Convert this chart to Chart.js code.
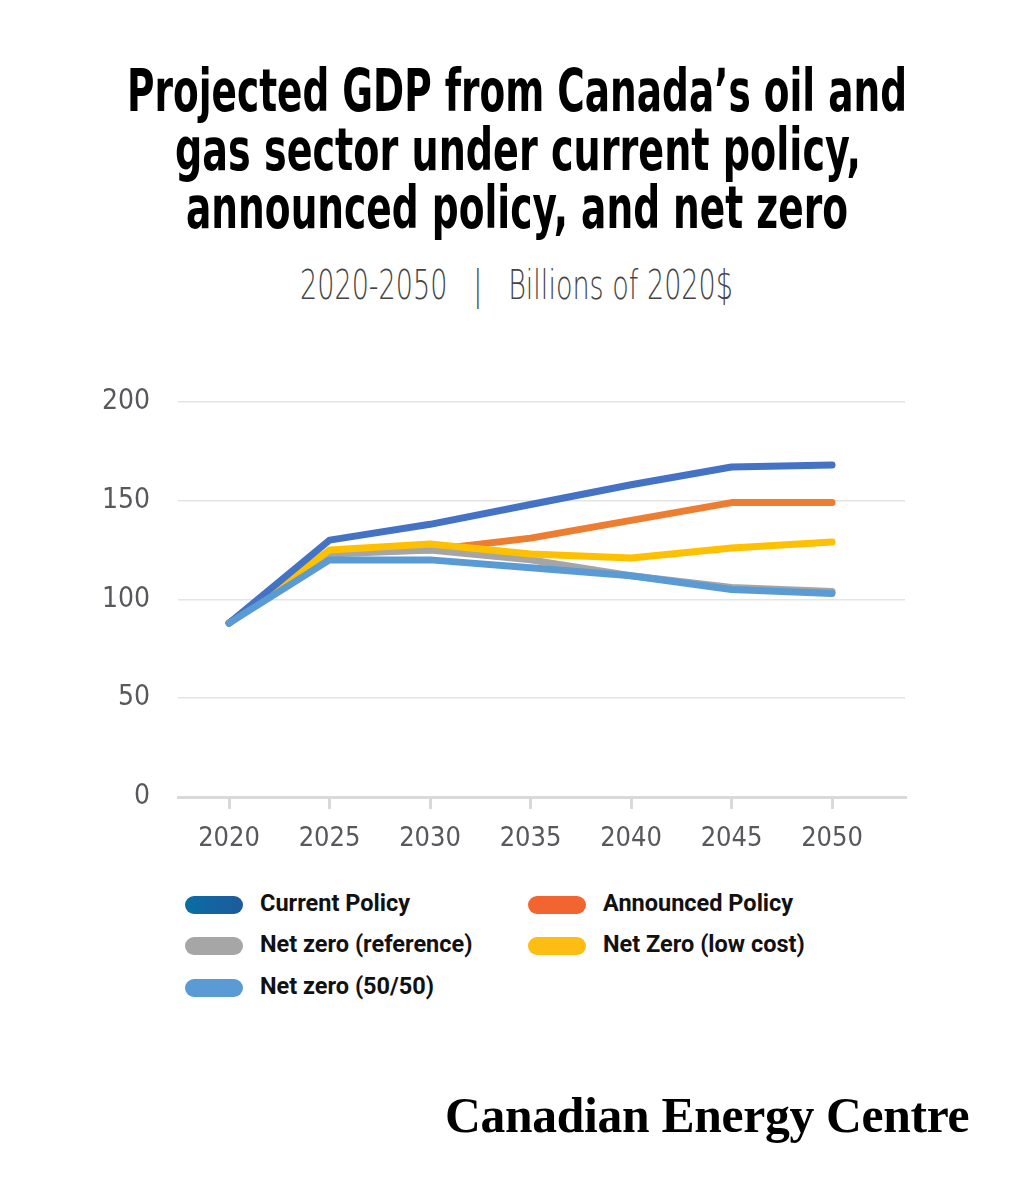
<!DOCTYPE html>
<html>
<head>
<meta charset="utf-8">
<script src="https://cdn.jsdelivr.net/npm/chart.js@4/dist/chart.umd.min.js"></script>
<style>
  html, body { margin: 0; padding: 0; background: #fff; }
  body { width: 1034px; height: 1200px; position: relative; overflow: hidden; }
  .fit { position: absolute; white-space: nowrap; transform-origin: 0 0; }
  .tl {
    font-family: "DejaVu Sans Condensed", "DejaVu Sans", sans-serif;
    font-weight: bold; font-size: 58px; line-height: 58px; color: #000;
  }
  .sub {
    font-family: "DejaVu Sans", sans-serif; font-weight: 200;
    font-size: 40px; line-height: 40px; color: #444;
  }
  #wrap { position: absolute; left: 100px; top: 357px; width: 820px; height: 510px; }
  .leg { position: absolute; font-family: Roboto, "Noto Sans", sans-serif; font-weight: bold;
         font-size: 23.5px; color: #111; }
  .leg .sw { position: absolute; width: 58px; height: 18px; border-radius: 9px; top: 2px; }
  .leg .tx { position: absolute; left: 75px; top: -5px; white-space: nowrap; }
  .brand {
    position: absolute; left: 445px; top: 1087px;
    font-family: "Liberation Serif", "DejaVu Serif", serif; font-weight: bold;
    font-size: 49.6px; color: #000; white-space: nowrap; letter-spacing: -0.3px;
  }
</style>
</head>
<body>
<div class="fit tl" data-x="127" data-w="780" style="top:62px">Projected GDP from Canada’s oil and</div>
<div class="fit tl" data-x="175" data-w="686" style="top:121px">gas sector under current policy,</div>
<div class="fit tl" data-x="186" data-w="662" style="top:179px">announced policy, and net zero</div>
<div class="fit sub" data-x="300" data-w="433" style="top:265px">2020-2050&nbsp;&nbsp;&nbsp;|&nbsp;&nbsp;&nbsp;Billions of 2020$</div>
<div id="wrap"><canvas id="chart"></canvas></div>
<div id="legend"></div>
<div class="brand">Canadian Energy Centre</div>

<script>
// данные читаю с картинки
const years = [2020, 2025, 2030, 2035, 2040, 2045, 2050];
const yTicks = [0, 50, 100, 150, 200];

const currentPolicy   = [88, 130, 138, 148, 158, 167, 168];
const announcedPolicy = [88, 124, 125, 131, 140, 149, 149];
const netZeroRef      = [88, 123, 125, 120, 112, 106, 104];
const netZeroLowCost  = [88, 125, 128, 123, 121, 126, 129];
const netZero5050     = [88, 120, 120, 116, 112, 105, 103];

const seriesNames = ['Current Policy', 'Announced Policy', 'Net zero (reference)', 'Net Zero (low cost)', 'Net zero (50/50)'];
const seriesData = [currentPolicy, announcedPolicy, netZeroRef, netZeroLowCost, netZero5050];
const lineColors = ['#4472C4', '#ED7D31', '#A5A5A5', '#FFC000', '#5B9BD5'];
const swatchColors = ['linear-gradient(90deg, #0a6ea3, #1d5a9c)', '#F26531', '#A6A6A6', '#FDBD12', '#5B9BD5'];
const drawOrder = [2, 5, 4, 3, 1];

// узкого шрифта нет, поэтому сжимаю строки заголовка по ширине
document.querySelectorAll('.fit').forEach(el => {
    const w = el.getBoundingClientRect().width;
    el.style.left = el.dataset.x + 'px';
    el.style.transform = 'scaleX(' + (el.dataset.w / w) + ')';
});

const tickFont = '"DejaVu Sans Condensed", "DejaVu Sans", sans-serif';
const ctx = document.getElementById('chart').getContext('2d');

const myChart = new Chart(ctx, {
    type: 'line',
    data: {
        datasets: seriesData.map((arr, i) => ({
            label: seriesNames[i],
            data: arr.map((v, j) => ({ x: years[j], y: v })),
            borderColor: lineColors[i],
            borderWidth: 7,
            borderCapStyle: 'round',
            borderJoinStyle: 'round',
            pointRadius: 0,
            tension: 0,
            order: drawOrder[i]
        }))
    },
    options: {
        responsive: true,
        maintainAspectRatio: false,
        animation: false,
        layout: { padding: { top: 21, right: 15, left: 0, bottom: 0 } },
        plugins: { legend: { display: false }, tooltip: { enabled: false } },
        scales: {
            x: {
                type: 'linear',
                min: 2017.46,
                max: 2053.63,
                afterBuildTicks: axis => { axis.ticks = years.map(v => ({ value: v })); },
                grid: { drawOnChartArea: false, color: '#d9d9d9', lineWidth: 3, tickLength: 12 },
                border: { color: '#d9d9d9', width: 3 },
                ticks: {
                    color: '#58585d', padding: 14,
                    font: { family: tickFont, size: 27 },
                    callback: v => String(v)
                },
                afterFit: s => { s.height = 70; }
            },
            y: {
                min: 0,
                max: 200,
                afterBuildTicks: axis => { axis.ticks = yTicks.map(v => ({ value: v })); },
                grid: { color: '#e4e4e4', lineWidth: 1.5, drawTicks: false },
                border: { display: false },
                ticks: {
                    color: '#58585d', padding: 28,
                    font: { family: tickFont, size: 28 }
                },
                afterFit: s => { s.width = 78; }
            }
        }
    }
});

// легенда в две колонки
const legend = document.getElementById('legend');
const legCols = [185, 528];
const legRows = [894, 935, 977];
seriesNames.forEach((name, i) => {
    const item = document.createElement('div');
    item.className = 'leg';
    item.style.left = legCols[i % 2] + 'px';
    item.style.top = legRows[Math.floor(i / 2)] + 'px';
    item.innerHTML = '<span class="sw" style="background:' + swatchColors[i] + '"></span><span class="tx">' + name + '</span>';
    legend.appendChild(item);
});
</script>
</body>
</html>
